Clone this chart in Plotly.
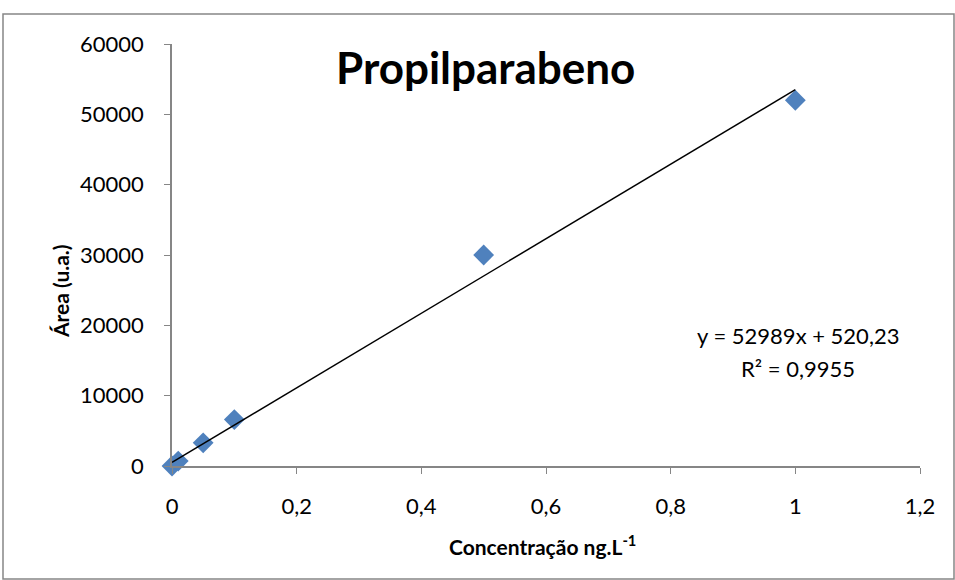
import plotly.graph_objects as go
import numpy as np

# data
conc = [0, 0.01, 0.05, 0.1, 0.5, 1.0]
area = [0, 700, 3300, 6600, 30000, 52000]
slope = 52989
intercept = 520.23
x_ticks = [0, 0.2, 0.4, 0.6, 0.8, 1.0, 1.2]
x_ticktext = ["0", "0,2", "0,4", "0,6", "0,8", "1", "1,2"]
y_ticks = [0, 10000, 20000, 30000, 40000, 50000, 60000]
y_ticktext = ["0", "10000", "20000", "30000", "40000", "50000", "60000"]

FONT = "Lato"

fig = go.Figure()
fig.add_trace(go.Scatter(
    x=conc, y=area, mode="markers", cliponaxis=False,
    marker=dict(symbol="diamond", size=16, color="#4F81BD"),
    showlegend=False))
tx = np.array([0, 1.0])
fig.add_trace(go.Scatter(
    x=tx, y=slope * tx + intercept, mode="lines",
    line=dict(color="black", width=1.5), showlegend=False))

W, H = 955, 580
L, R, T, B = 172, 35, 44, 114
pw, ph = W - L - R, H - T - B

def px(x):
    return (x - L) / pw

def py(y):
    return (H - B - y) / ph

def ann(text, x, y, size, angle=0):
    return dict(text=text, xref="paper", yref="paper", x=px(x), y=py(y),
                xanchor="center", yanchor="middle", showarrow=False,
                textangle=angle, font=dict(size=size, family=FONT, color="black"))

fig.update_layout(
    width=W, height=H,
    margin=dict(l=L, r=R, t=T, b=B),
    paper_bgcolor="white", plot_bgcolor="white",
    font=dict(family=FONT, size=22, color="black"),
    xaxis=dict(range=[0, 1.2], tickvals=x_ticks, ticktext=x_ticktext,
               showgrid=False, zeroline=False, showline=True,
               linecolor="#868686", linewidth=1.5, ticks="outside",
               tickcolor="#868686", ticklen=6, tickfont=dict(size=22),
               ticklabelstandoff=14),
    yaxis=dict(range=[0, 60000], tickvals=y_ticks, ticktext=y_ticktext,
               showgrid=False, zeroline=False, showline=True,
               linecolor="#868686", linewidth=1.5, ticks="outside",
               tickcolor="#868686", ticklen=6, tickfont=dict(size=22),
               ticklabelstandoff=16),
    shapes=[dict(type="rect", xref="paper", yref="paper",
                 x0=px(3), x1=px(954), y0=py(579), y1=py(14),
                 line=dict(color="#868686", width=1.5))],
    annotations=[
        ann("<b>Propilparabeno</b>", 485, 67, 44),
        ann("y = 52989x + 520,23", 798, 335, 22),
        ann("R² = 0,9955", 798, 368, 22),
        ann("<b>Concentração ng.L<sup>-1</sup></b>", 542, 545, 21),
        ann("<b>Área (u.a.)</b>", 60, 291, 21, angle=-90),
    ],
)

fig.write_html("out.html")
